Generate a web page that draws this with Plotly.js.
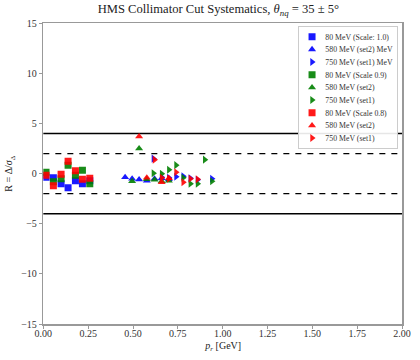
<!DOCTYPE html>
<html>
<head>
<meta charset="utf-8">
<script src="https://cdn.plot.ly/plotly-3.0.1.min.js"></script>
<style>
  html, body { margin: 0; padding: 0; background: #fff; overflow: hidden; }
  #wrap { width: 420px; height: 360px; overflow: hidden; }
  #chart { width: 630px; height: 540px; transform: scale(0.6667); transform-origin: 0 0; }
</style>
</head>
<body>
<div id="wrap"><div id="chart"></div></div>
<script>
// 80 MeV squares (shared x)
const sqX = [0.015, 0.056, 0.099, 0.138, 0.179, 0.218, 0.259];
const sqBlueY = [-0.35, -0.4, -1.0, -1.4, -0.7, -1.0, -0.7];
const sqGreenY = [0.15, -0.8, -0.5, 0.85, -0.15, 0.35, -1.0];
const sqRedY = [-0.15, -1.2, -0.05, 1.25, 0.3, -0.55, -0.45];

// 580 MeV (set2) triangles
const triBlueX = [0.456, 0.495, 0.534, 0.577, 0.62, 0.66, 0.70];
const triBlueY = [-0.35, -0.5, -0.57, -0.7, -0.5, -0.45, -0.55];
const triGreenX = [0.495, 0.534, 0.577, 0.62, 0.66, 0.70];
const triGreenY = [-0.75, 2.5, -0.55, -0.6, -0.75, -0.7];
const triRedX = [0.534, 0.577, 0.66, 0.70];
const triRedY = [3.7, -0.4, -0.85, -0.45];

// 750 MeV (set1) right triangles
const rtBlueX = [0.614, 0.66, 0.70, 0.74, 0.78, 0.82, 0.86, 0.94];
const rtBlueY = [1.5, -0.35, -0.4, -0.3, -0.25, -0.45, -0.6, -0.5];
const rtGreenX = [0.614, 0.66, 0.70, 0.74, 0.78, 0.82, 0.86, 0.90, 0.94];
const rtGreenY = [0.05, 0.0, 0.4, 0.85, -0.4, -1.0, -1.0, 1.4, -0.75];
const rtRedX = [0.62, 0.66, 0.70, 0.74, 0.78, 0.82, 0.86];
const rtRedY = [1.4, -0.4, -0.5, 0.15, -0.85, -0.5, -0.55];

const solidLevels = [4, -4];
const dashedLevels = [2, -2];

const names = [
  "80 MeV (Scale: 1.0)", "580 MeV (set2) MeV", "750 MeV (set1) MeV",
  "80 MeV (Scale 0.9)", "580 MeV (set2)", "750 MeV (set1)",
  "80 MeV (Scale 0.8)", "580 MeV (set2)", "750 MeV (set1)",
];

// everything is drawn at 1.5x and scaled down by css, so legend rows get tighter
const S = 1.5;
const serif = "'Liberation Serif', 'DejaVu Serif', serif";

function pts(x, y, name, color, symbol) {
  return {
    type: "scatter", mode: "markers", x, y, name,
    marker: { color, symbol, size: 7 * S, opacity: 0.9, line: { width: 0 } },
  };
}

const traces = [
  pts(sqX, sqBlueY, names[0], "#0000ff", "square"),
  pts(triBlueX, triBlueY, names[1], "#0000ff", "triangle-up"),
  pts(rtBlueX, rtBlueY, names[2], "#0000ff", "triangle-right"),
  pts(sqX, sqGreenY, names[3], "#008000", "square"),
  pts(triGreenX, triGreenY, names[4], "#008000", "triangle-up"),
  pts(rtGreenX, rtGreenY, names[5], "#008000", "triangle-right"),
  pts(sqX, sqRedY, names[6], "#ff0000", "square"),
  pts(triRedX, triRedY, names[7], "#ff0000", "triangle-up"),
  pts(rtRedX, rtRedY, names[8], "#ff0000", "triangle-right"),
];

const shapes = [
  ...solidLevels.map((v) => ({
    type: "line", xref: "paper", x0: 0, x1: 1, y0: v, y1: v,
    line: { color: "#000", width: 1.5 * S }, layer: "below",
  })),
  ...dashedLevels.map((v) => ({
    type: "line", xref: "paper", x0: 0, x1: 1, y0: v, y1: v,
    line: { color: "#000", width: 1.3 * S, dash: "dash" }, layer: "below",
  })),
];

const axisBase = {
  showgrid: false, zeroline: false,
  showline: true, mirror: true, linecolor: "#999", linewidth: 1.5 * S,
  ticks: "outside", ticklen: 3 * S, tickcolor: "#999", tickwidth: S,
  tickfont: { family: serif, size: 10 * S, color: "#333" },
};

const layout = {
  width: 630, height: 540,
  margin: { l: 43 * S, r: 18 * S, t: 23 * S, b: 36 * S },
  paper_bgcolor: "#fff", plot_bgcolor: "#fff",
  font: { family: serif, color: "#222" },
  title: {
    text: "HMS Collimator Cut Systematics, <i>θ</i><sub><i>nq</i></sub> = 35 ± 5°",
    font: { family: serif, size: 12.6 * S, color: "#222" },
    x: 0.52, xanchor: "center", y: 0.988, yanchor: "top",
  },
  xaxis: {
    ...axisBase, range: [0, 2], tick0: 0, dtick: 0.25, tickformat: ".2f", ticklabelstandoff: -4 * S,
  },
  yaxis: {
    ...axisBase, range: [-15, 15], tick0: -15, dtick: 5,
    title: { text: "R = Δ/<i>σ</i><sub>Δ</sub>", font: { family: serif, size: 10 * S }, standoff: 6 * S },
  },
  annotations: [{
    text: "<i>p</i><sub><i>r</i></sub> [GeV]", showarrow: false,
    xref: "paper", x: 0.5, yref: "paper", y: 0, yanchor: "top", yshift: -15 * S,
    font: { family: serif, size: 10 * S, color: "#222" },
  }],
  shapes,
  showlegend: true,
  legend: {
    x: 0.988, xanchor: "right", y: 0.991, yanchor: "top",
    bgcolor: "rgba(255,255,255,0.9)", bordercolor: "#ccc", borderwidth: S,
    font: { family: serif, size: 7.8 * S, color: "#333" },
    itemwidth: 30, tracegroupgap: 0,
  },
};

Plotly.newPlot("chart", traces, layout, { displayModeBar: false, staticPlot: true });
</script>
</body>
</html>
